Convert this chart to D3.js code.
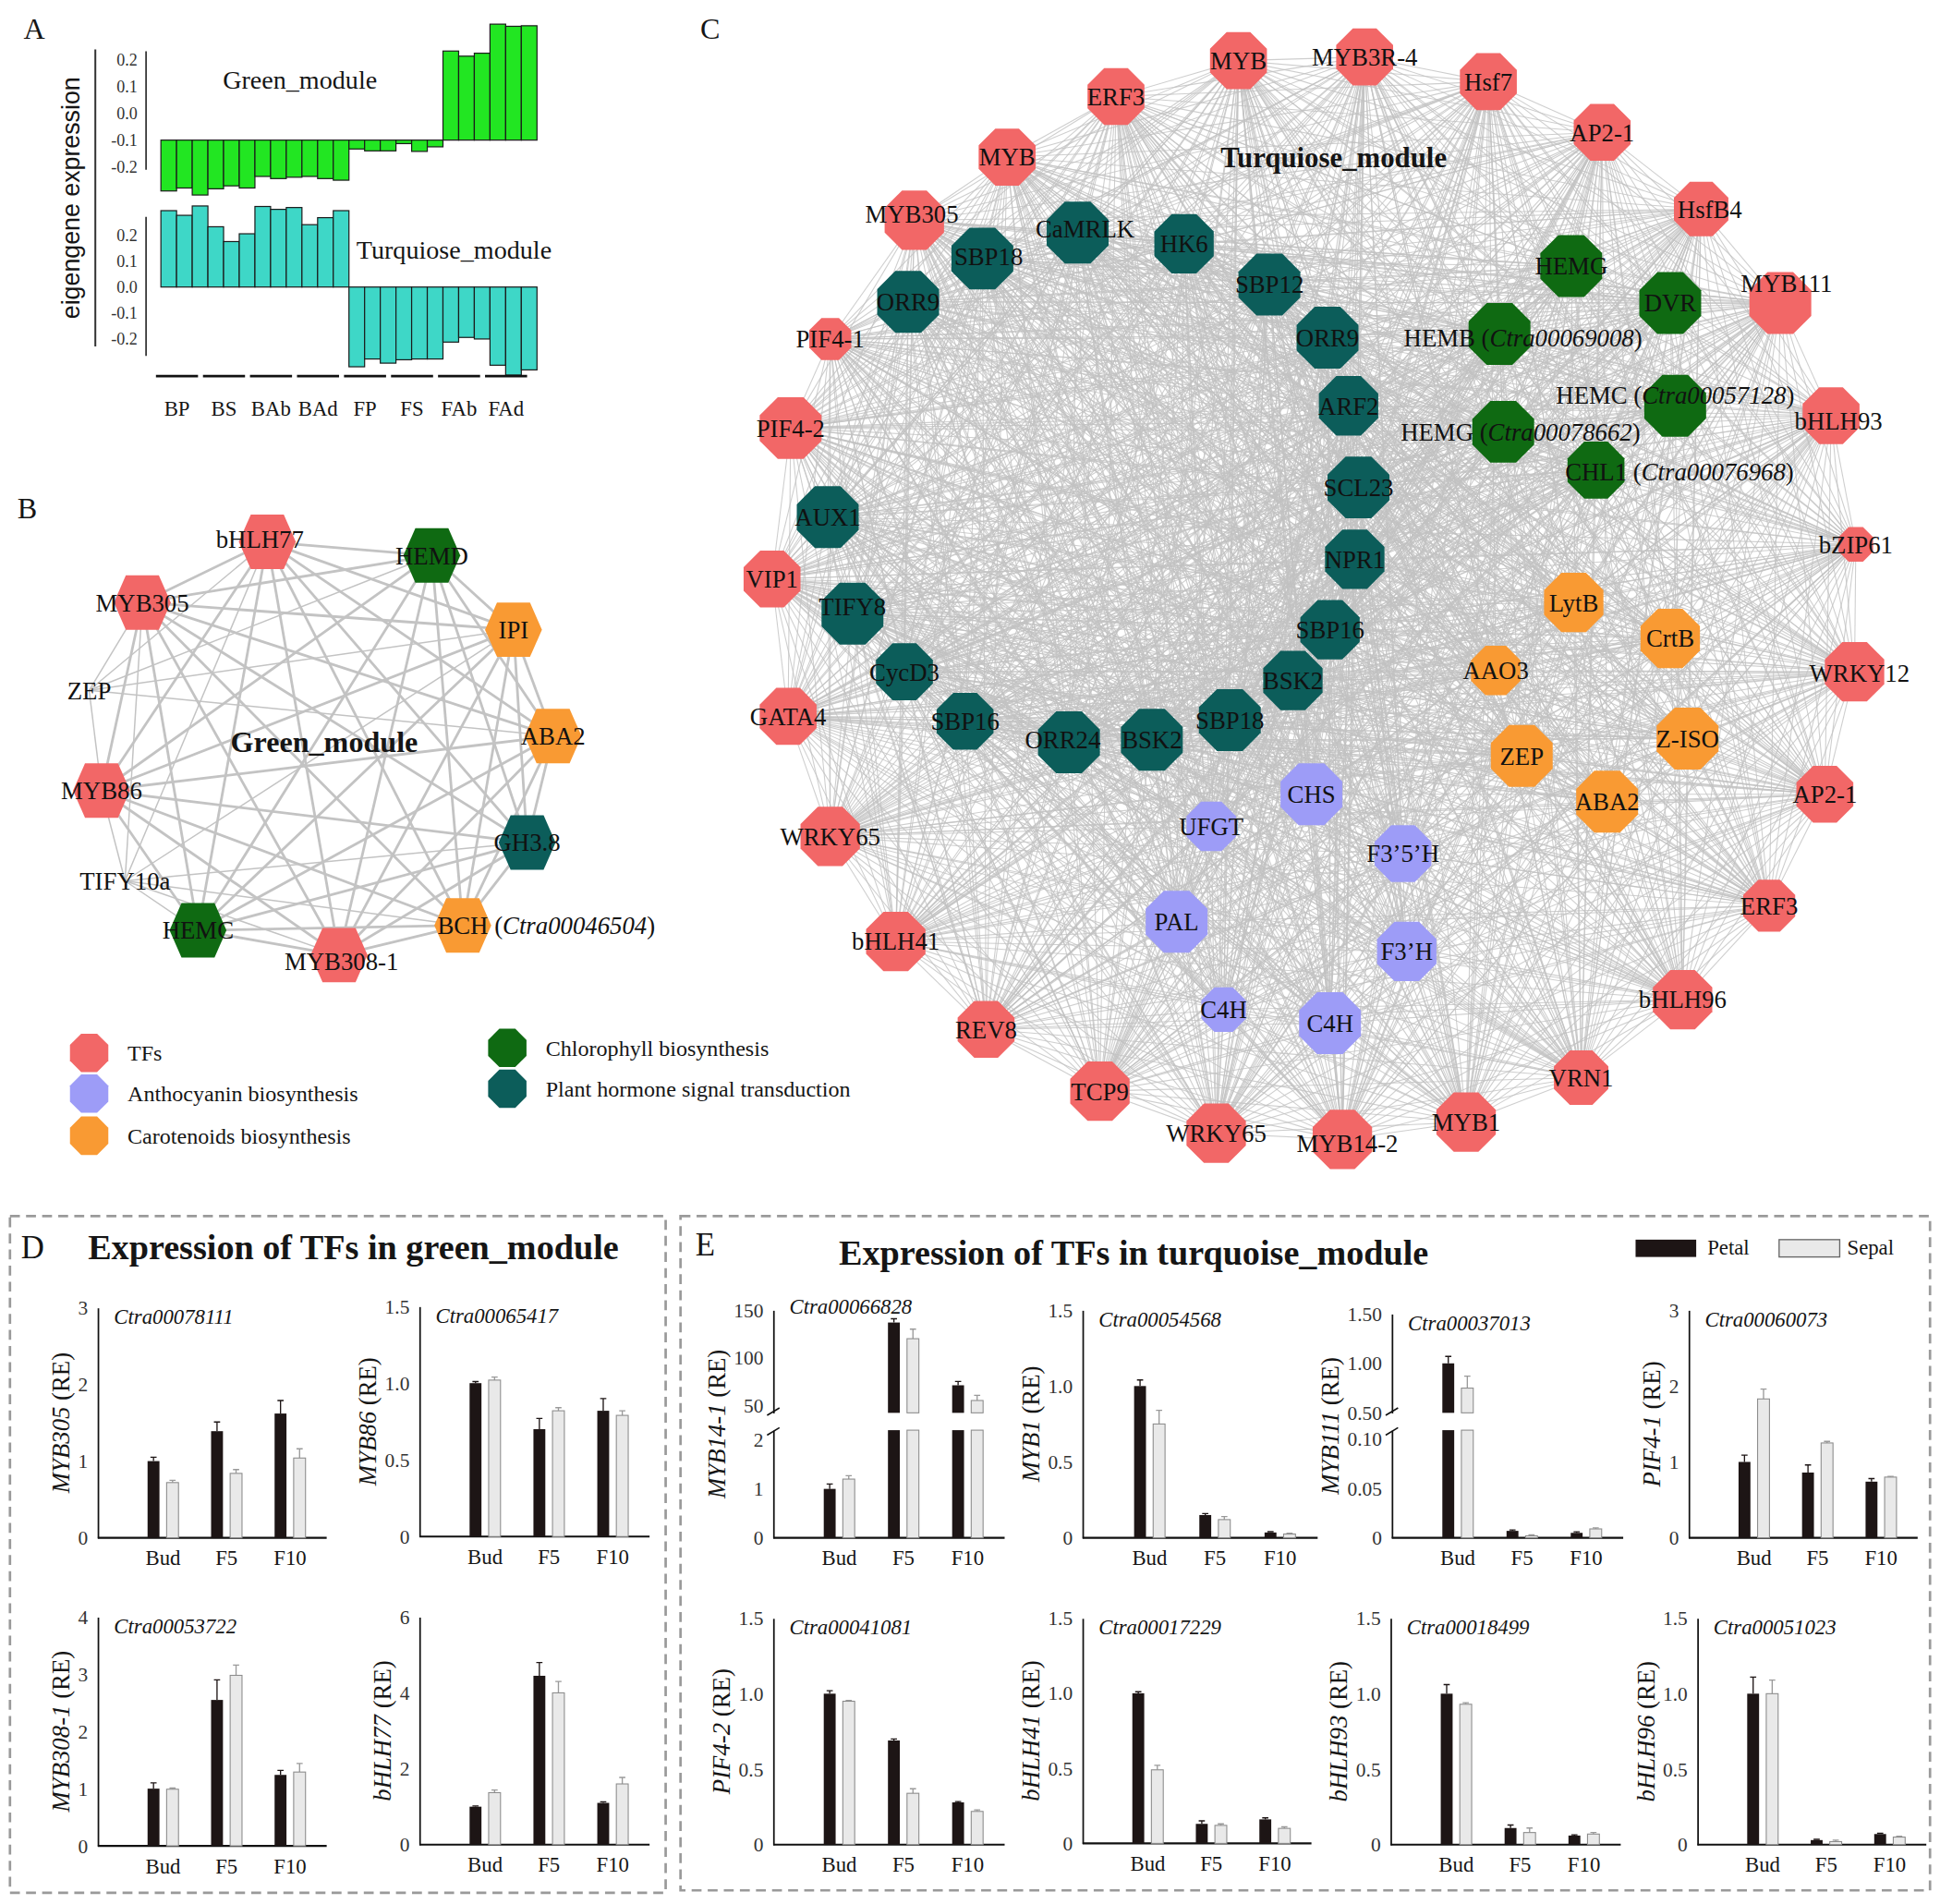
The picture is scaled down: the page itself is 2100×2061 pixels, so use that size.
<!DOCTYPE html>
<html>
<head>
<meta charset="utf-8">
<script src="https://cdn.jsdelivr.net/npm/d3@7"></script>
<style>
  body { margin: 0; background: #fff; }
  svg { display: block; }
</style>
</head>
<body>
<div id="fig"></div>
<script>
// ---------- A: module eigengene expression ----------
const sampleGroups = ["BP", "BS", "BAb", "BAd", "FP", "FS", "FAb", "FAd"];
const greenEigen = [-0.289, -0.278, -0.304, -0.281, -0.270, -0.278, -0.235, -0.243, -0.238, -0.235, -0.243, -0.249,
                    -0.133, -0.140, -0.140, -0.113, -0.142, -0.125, 0.231, 0.212, 0.223, 0.331, 0.323, 0.325];
const turqEigen = [0.294, 0.276, 0.312, 0.232, 0.175, 0.205, 0.310, 0.299, 0.306, 0.240, 0.267, 0.294,
                   -0.307, -0.277, -0.293, -0.280, -0.277, -0.277, -0.212, -0.194, -0.200, -0.301, -0.339, -0.319];
const eigenTicks = [0.2, 0.1, 0, -0.1, -0.2];

// ---------- B: green module network (layout units) ----------
const bNames = ["bHLH77", "HEMD", "IPI", "ABA2", "GH3.8", "BCH", "MYB308-1", "HEMC", "TIFY10a", "MYB86", "ZEP", "MYB305"];
const bTypes = ["TF", "Chl", "Car", "Car", "Hor", "Car", "TF", "Chl", "none", "TF", "none", "TF"];
const bX = [-46, 87, 153, 185, 164, 112, 12, -102, -161, -180, -190, -147];
const bY = [-162, -151, -91, -5, 81, 148, 172, 152, 112, 39, -42, -113];
const bIds = ["", "", "", "", "", "Ctra00046504", "", "", "", "", "", ""];
const bLinks = [
  "bHLH77>HEMD,IPI,ABA2,GH3.8,BCH,MYB308-1,HEMC,TIFY10a,MYB86,ZEP,MYB305",
  "HEMD>IPI,ABA2,GH3.8,BCH,MYB308-1,HEMC,MYB86,MYB305,ZEP",
  "IPI>ABA2,GH3.8,BCH,MYB308-1,HEMC,TIFY10a,MYB86,ZEP,MYB305",
  "ABA2>GH3.8,BCH,MYB308-1,HEMC,MYB86,ZEP,MYB305",
  "GH3.8>BCH,MYB308-1,HEMC,TIFY10a,MYB86,MYB305",
  "BCH>MYB308-1,HEMC,TIFY10a,MYB86,MYB305",
  "MYB308-1>HEMC,TIFY10a,MYB86,MYB305",
  "HEMC>TIFY10a,MYB86,MYB305",
  "TIFY10a>MYB86,MYB305",
  "MYB86>ZEP,MYB305",
  "ZEP>MYB305"
];

// ---------- C: turquoise module network (layout units) ----------
const cNames = ["MYB", "MYB3R-4", "Hsf7", "AP2-1", "HsfB4", "MYB111", "bHLH93", "bZIP61", "WRKY12", "AP2-1",
  "ERF3", "bHLH96", "VRN1", "MYB1", "MYB14-2", "WRKY65", "TCP9", "REV8", "bHLH41", "WRKY65",
  "GATA4", "VIP1", "PIF4-2", "PIF4-1", "MYB305", "MYB", "ERF3",
  "SBP18", "CaMRLK", "HK6", "SBP12", "ORR9", "ARF2", "SCL23", "NPR1", "SBP16", "BSK2",
  "SBP18", "BSK2", "ORR24", "SBP16", "CycD3", "TIFY8", "AUX1", "ORR9",
  "HEMG", "DVR", "HEMB", "HEMC", "HEMG", "CHL1",
  "LytB", "CrtB", "AAO3", "Z-ISO", "ZEP", "ABA2",
  "CHS", "UFGT", "F3\u20195\u2019H", "PAL", "F3\u2019H", "C4H", "C4H"];
const cTypes = [].concat(Array(27).fill("TF"), Array(18).fill("Hor"), Array(6).fill("Chl"), Array(6).fill("Car"), Array(7).fill("Ant"));
const cX = [-64, 38, 138, 230, 310, 374, 415, 435, 434, 410, 365, 295, 213, 120, 20, -82, -176, -268, -341, -394,
  -428, -441, -426, -394, -326, -251, -163,
  -271, -194, -108, -39, 8, 25, 33, 30, 10, -20, -71, -134, -201, -285, -334, -376, -396, -331,
  205, 285, 147, 289, 150, 225,
  207, 285, 144, 299, 165, 234,
  -5, -86, 69, -114, 72, -76, 10];
const cY = [-439, -442, -422, -381, -319, -243, -152, -48, 55, 154, 244, 320, 383, 419, 433, 428, 394, 344, 273, 188,
  91, -20, -142, -214, -310, -361, -410,
  -279, -300, -291, -258, -215, -160, -94, -36, 21, 62, 94, 110, 112, 95, 55, 8, -70, -244,
  -273, -243, -218, -160, -139, -108,
  -1, 28, 54, 109, 123, 160,
  154, 180, 202, 257, 281, 328, 339];
const cSize = [46, 46, 46, 46, 44, 50, 46, 28, 48, 46, 42, 48, 44, 48, 48, 48, 48, 46, 48, 48, 46, 46, 50, 34, 48, 46, 46,
  50, 50, 48, 50, 50, 48, 50, 48, 48, 48, 50, 50, 50, 46, 46, 50, 50, 50,
  50, 50, 50, 50, 50, 46,
  48, 48, 40, 50, 50, 50,
  50, 40, 46, 50, 48, 36, 50];
const cIds = {47: "Ctra00069008", 48: "Ctra00057128", 49: "Ctra00078662", 50: "Ctra00076968"};
const cLinkRule = [["TF", "*"], ["Hor", "Hor"], ["Hor", "Chl"], ["Chl", "Chl"], ["Hor", "Car"], ["Hor", "Ant"]];

// ---------- D / E: qRT-PCR of TFs ----------
const stages = ["Bud", "F5", "F10"];
const tfGenes = ["MYB305", "MYB86", "MYB308-1", "bHLH77", "MYB14-1", "MYB1", "MYB111", "PIF4-1", "PIF4-2", "bHLH41", "bHLH93", "bHLH96"];
const tfIds = ["Ctra00078111", "Ctra00065417", "Ctra00053722", "", "Ctra00066828", "Ctra00054568", "Ctra00037013",
  "Ctra00060073", "Ctra00041081", "Ctra00017229", "Ctra00018499", "Ctra00051023"];
const petalRE = [[1.0, 1.39, 1.62], [1.0, 0.70, 0.82], [1.0, 2.55, 1.24], [1.0, 4.45, 1.1], [1.0, 137, 71], [1.0, 0.15, 0.035],
  [1.0, 0.007, 0.005], [1.0, 0.86, 0.74], [1.0, 0.69, 0.28], [1.0, 0.13, 0.16], [1.0, 0.11, 0.06], [1.0, 0.03, 0.07]];
const sepalRE = [[0.72, 0.84, 1.04], [1.02, 0.82, 0.79], [0.99, 2.98, 1.29], [1.37, 4.0, 1.6], [1.2, 120, 55], [0.75, 0.12, 0.025],
  [0.75, 0.002, 0.009], [1.83, 1.25, 0.8], [0.95, 0.34, 0.22], [0.49, 0.12, 0.1], [0.93, 0.08, 0.07], [1.0, 0.02, 0.05]];
const petalSE = [[0.05, 0.12, 0.17], [0.01, 0.07, 0.08], [0.1, 0.35, 0.08], [0.02, 0.35, 0.03], [0.1, 4, 4], [0.04, 0.01, 0.005],
  [0.07, 0.001, 0.001], [0.09, 0.1, 0.04], [0.02, 0.01, 0.005], [0.01, 0.02, 0.01], [0.06, 0.02, 0.005], [0.11, 0.005, 0.005]];
const sepalSE = [[0.03, 0.05, 0.12], [0.02, 0.02, 0.03], [0.02, 0.18, 0.15], [0.07, 0.3, 0.17], [0.07, 10, 5.5], [0.09, 0.02, 0.005],
  [0.12, 0.001, 0.001], [0.13, 0.02, 0.01], [0.005, 0.03, 0.01], [0.03, 0.01, 0.01], [0.01, 0.03, 0.01], [0.09, 0.01, 0.005]];
const yTicks = [[0, 1, 2, 3], [0, 0.5, 1, 1.5], [0, 1, 2, 3, 4], [0, 2, 4, 6], null, [0, 0.5, 1, 1.5],
  null, [0, 1, 2, 3], [0, 0.5, 1, 1.5], [0, 0.5, 1, 1.5], [0, 0.5, 1, 1.5], [0, 0.5, 1, 1.5]];
const tickDecimals = [0, 1, 0, 0, 0, 1, 2, 0, 1, 1, 1, 1];
// broken axes: lower ticks / upper ticks, lower max / upper min
const brokenLowTicks = {4: [0, 1, 2], 6: [0, 0.05, 0.1]};
const brokenHighTicks = {4: [50, 100, 150], 6: [0.5, 1, 1.5]};
const brokenLowMax = {4: 2.2, 6: 0.109};
const brokenHighMin = {4: 42, 6: 0.5};

// ================= drawing =================
const W = 1568, H = 1539;
const serif = '"Liberation Serif","Times New Roman",serif';
const sans = '"Liberation Sans",Arial,sans-serif';
const colors = {TF: "#f26767", Ant: "#9d9cf7", Car: "#f99a33", Chl: "#0f6a12", Hor: "#0c5d5a"};

const svg = d3.select("#fig").append("svg")
  .attr("width", 2100).attr("height", 2061)
  .attr("viewBox", `0 0 ${W} ${H}`)
  .attr("font-family", serif);
svg.append("rect").attr("width", W).attr("height", H).attr("fill", "#fff");

function txt(g, x, y, s, size, extra) {
  const t = g.append("text").attr("x", x).attr("y", y).attr("font-size", size).attr("fill", "#151515").text(s);
  if (extra) Object.entries(extra).forEach(([k, v]) => t.attr(k, v));
  return t;
}

function polyPath(n, r, rot) {
  const pts = d3.range(n).map(k => {
    const a = rot + k * 2 * Math.PI / n;
    return [r * Math.cos(a), r * Math.sin(a)];
  });
  return d3.line()(pts) + "Z";
}
const octagon = d => polyPath(8, d / 2 / Math.cos(Math.PI / 8), Math.PI / 8);
// hexagon with flat top, about as tall as it is wide
const hexagon = (w, h) => d3.line()([[-w / 2, 0], [-0.29 * w, -h / 2], [0.29 * w, -h / 2], [w / 2, 0], [0.29 * w, h / 2], [-0.29 * w, h / 2]]) + "Z";

// panel letters
txt(svg, 19, 31, "A", 24);
txt(svg, 14, 419, "B", 24);
txt(svg, 566, 31, "C", 24);

// ---------- A ----------
const gA = svg.append("g");
const aIds = sampleGroups.flatMap(g => [g + "1", g + "2", g + "3"]);
const xA = d3.scaleBand().domain(aIds).range([130, 434]);
const yGreen = d3.scaleLinear().domain([-0.2, 0.2]).range([135, 48]);
const yTurq = d3.scaleLinear().domain([-0.2, 0.2]).range([274, 190]);

function eigenBars(vals, y, base, fill) {
  gA.append("g").selectAll("rect").data(vals).join("rect")
    .attr("x", (d, i) => xA(aIds[i]))
    .attr("width", xA.bandwidth())
    .attr("y", d => Math.min(y(d), y(base)))
    .attr("height", d => Math.abs(y(d) - y(base)))
    .attr("fill", fill)
    .attr("stroke", "#1b1b1b")
    .attr("stroke-width", 0.9);
}
eigenBars(greenEigen, yGreen, -0.1, "#22e622");
eigenBars(turqEigen, yTurq, 0, "#3ed7c7");

function eigenAxis(y, ext) {
  const ax = gA.append("g").attr("transform", "translate(118,0)")
    .call(d3.axisLeft(y).tickValues(eigenTicks).tickFormat(d => d.toFixed(1)).tickSize(0).tickPadding(7));
  ax.select(".domain").remove();
  ax.attr("font-family", serif).attr("font-size", 13.5);
  ax.selectAll("text").attr("fill", "#333");
  gA.append("line").attr("x1", 118).attr("x2", 118)
    .attr("y1", y(ext[0])).attr("y2", y(ext[1]))
    .attr("stroke", "#333").attr("stroke-width", 1.3);
}
eigenAxis(yGreen, [0.23, -0.21]);
eigenAxis(yTurq, [0.27, -0.265]);

// left bracket and y title
gA.append("line").attr("x1", 77).attr("x2", 77).attr("y1", 40).attr("y2", 280)
  .attr("stroke", "#333").attr("stroke-width", 1.5);
txt(gA, 0, 0, "eigengene expression", 20, {
  "font-family": sans, "text-anchor": "middle", "transform": "translate(64,160) rotate(-90)"
});
txt(gA, 180, 72, "Green_module", 21);
txt(gA, 288, 209, "Turquiose_module", 21);

// sample groups
const groupW = xA.bandwidth() * 3;
sampleGroups.forEach((s, k) => {
  const x0 = xA(s + "1");
  gA.append("line").attr("x1", x0 - 4).attr("x2", x0 + groupW - 8)
    .attr("y1", 304).attr("y2", 304).attr("stroke", "#111").attr("stroke-width", 2);
  txt(gA, x0 + groupW / 2 - 6, 336, s, 17, {"text-anchor": "middle"});
});

// ---------- B ----------
const gB = svg.append("g");
const bxs = d3.scaleLinear().domain([-200, 200]).range([62, 462]);
const bys = d3.scaleLinear().domain([-200, 200]).range([400, 800]);
const bIndex = new Map(bNames.map((n, i) => [n, i]));
const bEdges = bLinks.flatMap(s => {
  const [src, tg] = s.split(">");
  return tg.split(",").map(t => [bIndex.get(src), bIndex.get(t)]);
});
gB.append("g").selectAll("line").data(bEdges).join("line")
  .attr("x1", d => bxs(bX[d[0]])).attr("y1", d => bys(bY[d[0]]))
  .attr("x2", d => bxs(bX[d[1]])).attr("y2", d => bys(bY[d[1]]))
  .attr("stroke", "#c3c3c3")
  .attr("stroke-width", d => (bTypes[d[0]] === "none" || bTypes[d[1]] === "none") ? 1.1 : 2.1);
gB.append("g").selectAll("path").data(bNames.filter((n, i) => bTypes[i] !== "none"))
  .join("path")
  .attr("d", hexagon(46, 44))
  .attr("transform", n => `translate(${bxs(bX[bIndex.get(n)])},${bys(bY[bIndex.get(n)])})`)
  .attr("fill", n => colors[bTypes[bIndex.get(n)]]);
txt(gB, 262, 608, "Green_module", 24, {"text-anchor": "middle", "font-weight": "bold"});

function nodeLabel(g, x, y, name, id, size, centerName) {
  const t = g.append("text").attr("y", y).attr("dy", "0.35em").attr("font-size", size).attr("fill", "#111");
  const a = t.append("tspan").text(name + (id ? " (" : ""));
  if (id) {
    t.append("tspan").attr("font-style", "italic").text(id);
    t.append("tspan").text(")");
  }
  if (centerName && id) {
    const nameLen = a.node().getSubStringLength(0, name.length);
    t.attr("x", x - nameLen / 2);
  } else {
    t.attr("x", x).attr("text-anchor", "middle");
  }
}
const bNudge = {0: [-6, -2], 6: [2, 5]};
bNames.forEach((n, i) => {
  const nd = bNudge[i] || [0, 0];
  nodeLabel(gB, bxs(bX[i]) + nd[0], bys(bY[i]) + nd[1], n, bIds[i], 20, true);
});

// legend
const legendItems = [
  ["TFs", "TF", 72, 851], ["Anthocyanin biosynthesis", "Ant", 72, 884], ["Carotenoids biosynthesis", "Car", 72, 918],
  ["Chlorophyll biosynthesis", "Chl", 410, 847], ["Plant hormone signal transduction", "Hor", 410, 880]
];
legendItems.forEach(([lab, ty, x, y]) => {
  gB.append("path").attr("d", octagon(31)).attr("transform", `translate(${x},${y})`).attr("fill", colors[ty]);
  txt(gB, x + 31, y, lab, 18, {"dy": "0.35em"});
});

// ---------- C ----------
const gC = svg.append("g");
const cxs = d3.scaleLinear().domain([-500, 500]).range([565, 1565]);
const cys = d3.scaleLinear().domain([-500, 500]).range([-12, 988]);
const sizeScale = d3.scaleLinear().domain([0, 50]).range([0, 50]);
const cEdges = [];
for (let i = 0; i < cNames.length; i++) {
  for (let j = i + 1; j < cNames.length; j++) {
    const ok = cLinkRule.some(([a, b]) =>
      (cTypes[i] === a && (b === "*" || cTypes[j] === b)) || (cTypes[j] === a && (b === "*" || cTypes[i] === b)));
    if (ok) cEdges.push([i, j]);
  }
}
gC.append("g").selectAll("line").data(cEdges).join("line")
  .attr("x1", d => cxs(cX[d[0]])).attr("y1", d => cys(cY[d[0]]))
  .attr("x2", d => cxs(cX[d[1]])).attr("y2", d => cys(cY[d[1]]))
  .attr("stroke", "#c2c2c2")
  .attr("stroke-opacity", 0.8)
  .attr("stroke-width", 0.8);
gC.append("g").selectAll("path").data(cNames).join("path")
  .attr("d", (n, i) => octagon(sizeScale(cSize[i])))
  .attr("transform", (n, i) => `translate(${cxs(cX[i])},${cys(cY[i])})`)
  .attr("fill", (n, i) => colors[cTypes[i]]);
const cNudge = {4: [7, 0], 5: [5, -16], 6: [6, 4], 8: [4, 1], 14: [4, 3], 24: [-2, -5], 27: [5, -2], 28: [6, -3],
  39: [-5, -2], 42: [0, -6], 47: [19, 3], 48: [0, -9], 49: [14, 0], 50: [0, 1]};
cNames.forEach((n, i) => {
  const nd = cNudge[i] || [0, 0];
  nodeLabel(gC, cxs(cX[i]) + nd[0], cys(cY[i]) + nd[1], n, cIds[i], 20, n === "CHL1");
});
txt(gC, 1078, 135, "Turquiose_module", 23, {"text-anchor": "middle", "font-weight": "bold"});

// ---------- D / E ----------
const gDE = svg.append("g");
gDE.append("rect").attr("x", 8).attr("y", 983).attr("width", 530).attr("height", 547)
  .attr("fill", "none").attr("stroke", "#9a9a9a").attr("stroke-width", 2).attr("stroke-dasharray", "8,5");
gDE.append("rect").attr("x", 550).attr("y", 983).attr("width", 1010).attr("height", 545)
  .attr("fill", "none").attr("stroke", "#9a9a9a").attr("stroke-width", 2).attr("stroke-dasharray", "8,5");
txt(gDE, 17, 1017, "D", 26);
txt(gDE, 562, 1015, "E", 26);
txt(gDE, 71, 1018, "Expression of TFs in green_module", 28.5, {"font-weight": "bold"});
txt(gDE, 678, 1022, "Expression of TFs in turquoise_module", 28.5, {"font-weight": "bold"});
// legend
gDE.append("rect").attr("x", 1322).attr("y", 1002).attr("width", 49).attr("height", 14).attr("fill", "#1d1515");
txt(gDE, 1380, 1014, "Petal", 17);
gDE.append("rect").attr("x", 1438).attr("y", 1002).attr("width", 49).attr("height", 14)
  .attr("fill", "#e9e9e9").attr("stroke", "#666").attr("stroke-width", 1);
txt(gDE, 1493, 1014, "Sepal", 17);

const chartBoxes = [
  {x0: 79, top: 1057, bottom: 1243, right: 264}, {x0: 339, top: 1056, bottom: 1242, right: 525},
  {x0: 79, top: 1307, bottom: 1492, right: 264}, {x0: 339, top: 1307, bottom: 1491, right: 525},
  {x0: 625, top: 1059, bottom: 1243, right: 812, idDy: 3}, {x0: 875, top: 1059, bottom: 1243, right: 1065},
  {x0: 1125, top: 1062, bottom: 1243, right: 1312}, {x0: 1365, top: 1059, bottom: 1243, right: 1550},
  {x0: 625, top: 1308, bottom: 1491, right: 812}, {x0: 875, top: 1308, bottom: 1490, right: 1060},
  {x0: 1124, top: 1308, bottom: 1491, right: 1310}, {x0: 1372, top: 1308, bottom: 1491, right: 1557}
];

function yAxis(g, x0, y, ticks, dec) {
  const ax = g.append("g").attr("transform", `translate(${x0},0)`)
    .call(d3.axisLeft(y).tickValues(ticks).tickSize(0).tickPadding(8)
      .tickFormat(d => d === 0 ? "0" : d.toFixed(dec)));
  ax.attr("font-family", serif).attr("font-size", 16);
  ax.select(".domain").attr("stroke", "#111").attr("stroke-width", 1.3);
  ax.selectAll("text").attr("fill", "#333");
  return ax;
}

function barChart(i, box) {
  const g = gDE.append("g");
  const w = box.right - box.x0;
  const x = d3.scalePoint().domain(stages).range([box.x0 + 0.285 * w, box.x0 + 0.84 * w]);
  const broken = brokenLowTicks[i] !== undefined;
  const axG = g.append("g");
  let yLow, yHigh = null, lowTop = box.top;
  if (!broken) {
    yLow = d3.scaleLinear().domain([0, d3.max(yTicks[i])]).range([box.bottom, box.top]);
    yAxis(axG, box.x0, yLow, yTicks[i], tickDecimals[i]);
  } else {
    lowTop = box.bottom - 87;
    const highBottom = box.bottom - 101;
    yLow = d3.scaleLinear().domain([0, brokenLowMax[i]]).range([box.bottom, lowTop]);
    yHigh = d3.scaleLinear().domain([brokenHighMin[i], d3.max(brokenHighTicks[i])]).range([highBottom, box.top]);
    yAxis(axG, box.x0, yLow, brokenLowTicks[i], tickDecimals[i]);
    yAxis(axG, box.x0, yHigh, brokenHighTicks[i], tickDecimals[i]);
    [lowTop + 1, highBottom - 1].forEach(yy => {
      axG.append("line").attr("x1", box.x0 - 5).attr("x2", box.x0 + 5)
        .attr("y1", yy + 3).attr("y2", yy - 3).attr("stroke", "#111").attr("stroke-width", 1.2);
    });
  }
  // x axis
  g.append("line").attr("x1", box.x0).attr("x2", box.right).attr("y1", box.bottom).attr("y2", box.bottom)
    .attr("stroke", "#111").attr("stroke-width", 1.6);
  stages.forEach(s => txt(g, x(s), box.bottom + 22, s, 17, {"text-anchor": "middle"}));

  // bars
  const off = 7.7, bw = 9.6;
  const bars = [];
  [["petal", petalRE[i], petalSE[i], -off], ["sepal", sepalRE[i], sepalSE[i], off]].forEach(([kind, vals, errs, dx]) => {
    vals.forEach((v, k) => {
      const cx = x(stages[k]) + dx;
      if (yHigh && v > brokenLowMax[i]) {
        bars.push({kind, cx, y0: box.bottom, y1: lowTop});
        bars.push({kind, cx, y0: yHigh.range()[0], y1: yHigh(v), ey: yHigh(v + errs[k])});
      } else {
        bars.push({kind, cx, y0: box.bottom, y1: yLow(v), ey: yLow(v + errs[k])});
      }
    });
  });
  g.append("g").selectAll("path").data(bars.filter(b => b.ey !== undefined)).join("path")
    .attr("d", b => `M${b.cx},${b.y1}V${b.ey}M${b.cx - 2.5},${b.ey}H${b.cx + 2.5}`)
    .attr("stroke", b => b.kind === "petal" ? "#1d1515" : "#9a9a9a")
    .attr("stroke-width", 1).attr("fill", "none");
  g.append("g").selectAll("rect").data(bars).join("rect")
    .attr("x", b => b.cx - bw / 2).attr("width", bw)
    .attr("y", b => b.y1).attr("height", b => Math.max(0, b.y0 - b.y1))
    .attr("fill", b => b.kind === "petal" ? "#1d1515" : "#e9e9e9")
    .attr("stroke", b => b.kind === "petal" ? "none" : "#8c8c8c")
    .attr("stroke-width", 0.8);

  // gene id
  if (tfIds[i]) txt(g, box.x0 + 13, box.top + (box.idDy !== undefined ? box.idDy : 13), tfIds[i], 17, {"font-style": "italic"});
  // y title
  const bb = axG.node().getBBox();
  const t = g.append("text").attr("font-size", 20).attr("fill", "#151515").attr("text-anchor", "middle")
    .attr("transform", `translate(${bb.x - 7},${(box.top + box.bottom) / 2}) rotate(-90)`);
  t.append("tspan").attr("font-style", "italic").text(tfGenes[i]);
  t.append("tspan").text(" (RE)");
}
chartBoxes.forEach((b, i) => barChart(i, b));
</script>
</body>
</html>
